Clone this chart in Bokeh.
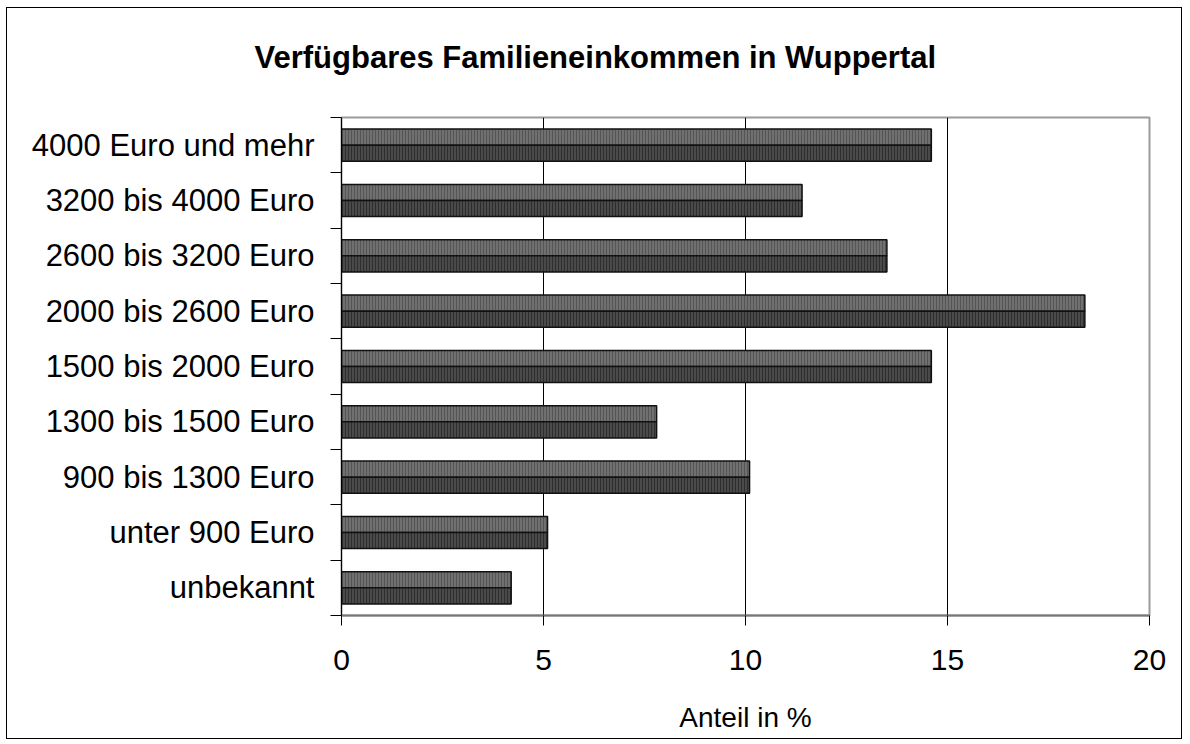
from bokeh.plotting import figure
from bokeh.models import ColumnDataSource, FixedTicker, Range1d, Title
from bokeh.embed import file_html
from bokeh.resources import INLINE

categories = ["unbekannt", "unter 900 Euro", "900 bis 1300 Euro", "1300 bis 1500 Euro",
              "1500 bis 2000 Euro", "2000 bis 2600 Euro", "2600 bis 3200 Euro",
              "3200 bis 4000 Euro", "4000 Euro und mehr"]
values_a = [4.2, 5.1, 10.1, 7.8, 14.6, 18.4, 13.5, 11.4, 14.6]
values_b = [4.2, 5.1, 10.1, 7.8, 14.6, 18.4, 13.5, 11.4, 14.6]
x_ticks = [0, 5, 10, 15, 20]
title_text = "Verfügbares Familieneinkommen in Wuppertal"
x_label = "Anteil in %"

FONT = "Liberation Sans"
BAR_H = 0.29

pos = [i + 0.5 for i in range(len(categories))]
src_a = ColumnDataSource(dict(y=[p_ + BAR_H / 2 for p_ in pos], right=values_a))
src_b = ColumnDataSource(dict(y=[p_ - BAR_H / 2 for p_ in pos], right=values_b))

p = figure(width=1176, height=732, output_backend="svg", toolbar_location=None,
           x_range=Range1d(0, 20), y_range=Range1d(0, len(categories)),
           min_border_left=334, min_border_right=34, min_border_top=109,
           min_border_bottom=125)
p.styles = {"border": "1px solid #000000", "margin-left": "6px", "margin-top": "7px"}
p.background_fill_color = "white"
p.border_fill_color = "white"
p.outline_line_color = "#9a9a9a"
p.outline_line_width = 2

p.hbar(y="y", left=0, right="right", height=BAR_H, source=src_a,
       fill_color="#707070", line_color="#111111", line_width=1.5,
       hatch_pattern="vertical_line", hatch_color="#555555", hatch_scale=3, hatch_weight=1)
p.hbar(y="y", left=0, right="right", height=BAR_H, source=src_b,
       fill_color="#4a4a4a", line_color="#111111", line_width=1.5,
       hatch_pattern="vertical_line", hatch_color="#2e2e2e", hatch_scale=3, hatch_weight=1)

# spacer between title and plot area
p.add_layout(Title(text=" ", text_font_size="10px", standoff=25), "above")

# title
p.title.text = title_text
p.title.align = "left"
p.title.offset = -87
p.title.vertical_align = "bottom"
p.title.standoff = 10
p.title.text_font = FONT
p.title.text_font_size = "31px"
p.title.text_font_style = "bold"
p.title.text_color = "#000000"

# x axis
p.xaxis.ticker = FixedTicker(ticks=x_ticks)
p.xaxis.major_tick_out = 10
p.xaxis.major_tick_in = 0
p.xaxis.minor_tick_line_color = None
p.xaxis.axis_line_color = "#777777"
p.xaxis.axis_line_width = 2
p.xaxis.major_tick_line_color = "#000000"
p.xaxis.major_label_text_font = FONT
p.xaxis.major_label_text_font_size = "30px"
p.xaxis.major_label_text_color = "#000000"
p.xaxis.major_label_standoff = 24
p.xaxis.axis_label = x_label
p.xaxis.axis_label_text_font = FONT
p.xaxis.axis_label_text_font_style = "normal"
p.xaxis.axis_label_text_font_size = "28px"
p.xaxis.axis_label_text_color = "#000000"
p.xaxis.axis_label_standoff = 29

# y axis: labels at category centres, ticks at category boundaries
p.yaxis.ticker = FixedTicker(ticks=pos, minor_ticks=list(range(len(categories) + 1)))
p.yaxis.major_label_overrides = {pv: c for pv, c in zip(pos, categories)}
p.yaxis.major_tick_line_color = None
p.yaxis.major_tick_out = 0
p.yaxis.major_tick_in = 0
p.yaxis.minor_tick_out = 11
p.yaxis.minor_tick_in = 0
p.yaxis.minor_tick_line_color = "#000000"
p.yaxis.axis_line_color = "#000000"
p.yaxis.major_label_text_font = FONT
p.yaxis.major_label_text_font_size = "31px"
p.yaxis.major_label_text_color = "#000000"
p.yaxis.major_label_standoff = 16

p.xgrid.ticker = FixedTicker(ticks=[5, 10, 15])
p.xgrid.grid_line_color = "#000000"
p.xgrid.grid_line_width = 1
p.ygrid.grid_line_color = None

open("out.html", "w").write(file_html(p, INLINE))
